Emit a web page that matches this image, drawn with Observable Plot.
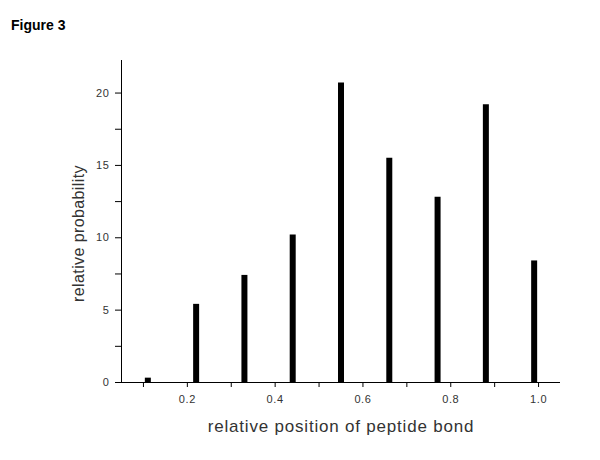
<!DOCTYPE html>
<html>
<head>
<meta charset="utf-8">
<script src="https://cdn.jsdelivr.net/npm/d3@7"></script>
<script src="https://cdn.jsdelivr.net/npm/@observablehq/plot@0.6"></script>
<style>
  html, body { margin: 0; padding: 0; background: #fff; }
  #wrap { position: relative; width: 600px; height: 460px; }
  #title { position: absolute; left: 11px; top: 17px; font: bold 14px "Liberation Sans", Arial, sans-serif; color: #000; }
  g[aria-label="x-axis tick label"] text, g[aria-label="y-axis tick label"] text { letter-spacing: 0.6px; }
</style>
</head>
<body>
<div id="wrap">
  <div id="title">Figure 3</div>
</div>
<script>
const positions = [0.11, 0.22, 0.33, 0.44, 0.55, 0.66, 0.77, 0.88, 0.99];
const probabilities = [0.3, 5.4, 7.4, 10.2, 20.7, 15.5, 12.8, 19.2, 8.4];
const xTickLabels = [0.2, 0.4, 0.6, 0.8, 1.0];
const xMinorTicks = [0.1, 0.3, 0.5, 0.7, 0.9];
const yTickLabels = [0, 5, 10, 15, 20];
const yMinorTicks = [2.5, 7.5, 12.5, 17.5];
const xLabel = "relative position of peptide bond";
const yLabel = "relative probability";

const data = positions.map((p, i) => ({position: p, probability: probabilities[i]}));

const chart = Plot.plot({
  width: 600,
  height: 460,
  marginLeft: 121,
  marginRight: 40,
  marginTop: 60,
  marginBottom: 78,
  style: {fontFamily: "'Liberation Sans', Arial, sans-serif", fontSize: "11px", color: "#333", background: "transparent"},
  x: {domain: [0.05, 1.05]},
  y: {domain: [0, 22.25]},
  marks: [
    Plot.ruleX(data, {x: "position", y1: 0, y2: "probability", stroke: "#000", strokeWidth: 6}),
    Plot.axisY({ticks: yTickLabels, tickSize: 6, tickPadding: 6, label: null, stroke: "#000", fill: "#333", fontSize: 11}),
    Plot.axisY({ticks: yMinorTicks, tickSize: 6, tickFormat: () => "", label: null, stroke: "#000"}),
    Plot.axisX({ticks: xTickLabels, tickSize: 5, tickPadding: 8, tickFormat: d3.format(".1f"), label: null, stroke: "#000", fill: "#333", fontSize: 11}),
    Plot.axisX({ticks: xMinorTicks, tickSize: 5, tickFormat: () => "", label: null, stroke: "#000"}),
    Plot.ruleX([0.05], {stroke: "#000"}),
    Plot.ruleY([0], {stroke: "#000"}),
    Plot.text([xLabel], {text: d => d, frameAnchor: "bottom", textAnchor: "middle", lineAnchor: "middle", dy: 44, fontSize: 17, fill: "#333"}),
    Plot.text([yLabel], {text: d => d, frameAnchor: "left", textAnchor: "middle", lineAnchor: "middle", rotate: -90, dx: -43, dy: 12, fontSize: 16, fill: "#333"})
  ]
});
d3.select(chart).selectAll("text").filter(function() { return this.textContent === xLabel; }).style("letter-spacing", "0.8px");
d3.select(chart).selectAll("text").filter(function() { return this.textContent === yLabel; }).style("letter-spacing", "0.4px");
document.getElementById("wrap").appendChild(chart);
</script>
</body>
</html>
